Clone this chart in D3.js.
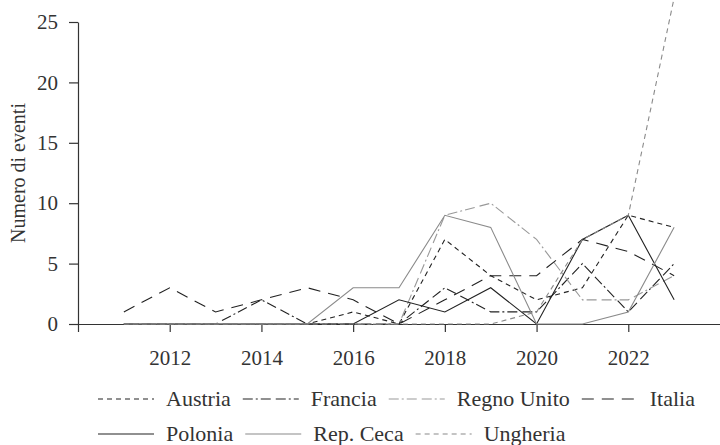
<!DOCTYPE html>
<html>
<head>
<meta charset="utf-8">
<script src="https://cdn.jsdelivr.net/npm/d3@7"></script>
<style>
  body { margin: 0; background: #fff; }
  text { font-family: "Liberation Serif", "DejaVu Serif", serif; fill: #333; }
</style>
</head>
<body>
<div id="chart"></div>
<script>
// anni e valori
const years = [2011, 2012, 2013, 2014, 2015, 2016, 2017, 2018, 2019, 2020, 2021, 2022, 2023];
const austria    = [0, 0, 0, 0, 0, 1, 0, 7, 4, 2, 3, 9, 8];
const francia    = [0, 0, 0, 2, 0, 0, 0, 3, 1, 1, 5, 1, 5];
const regnoUnito = [0, 0, 0, 0, 0, 0, 0, 9, 10, 7, 2, 2, 4];
const italia     = [1, 3, 1, 2, 3, 2, 0, 2, 4, 4, 7, 6, 4];
const polonia    = [0, 0, 0, 0, 0, 0, 2, 1, 3, 0, 7, 9, 2];
const repCeca    = [0, 0, 0, 0, 0, 3, 3, 9, 8, 0, 0, 1, 8];
const ungheria   = [0, 0, 0, 0, 0, 0, 0, 0, 0, 1, 7, 9, 27];

const names = ["Austria", "Francia", "Regno Unito", "Italia", "Polonia", "Rep. Ceca", "Ungheria"];
const values = [austria, francia, regnoUnito, italia, polonia, repCeca, ungheria];

const xTicks = [2010, 2012, 2014, 2016, 2018, 2020, 2022];
const yTicks = [0, 5, 10, 15, 20, 25];

// stili delle linee
const styles = {
  "Austria":     { color: "#222", dash: "5,4" },
  "Francia":     { color: "#222", dash: "10,3,2,3,10,5" },
  "Regno Unito": { color: "#999", dash: "10,3,2,3,10,5" },
  "Italia":      { color: "#222", dash: "12,8" },
  "Polonia":     { color: "#222", dash: null },
  "Rep. Ceca":   { color: "#8a8a8a", dash: null },
  "Ungheria":    { color: "#8a8a8a", dash: "5,4" }
};

const W = 720, H = 445;
const svg = d3.select("#chart").append("svg")
  .attr("width", W).attr("height", H);

const x = d3.scaleLinear().domain([2010, 2024]).range([78, 720]);
const y = d3.scaleLinear().domain([0, 25]).range([324, 22]);

// asse x
const xAxis = svg.append("g")
  .attr("transform", "translate(0," + y(0) + ")")
  .call(d3.axisBottom(x).tickValues(xTicks).tickSize(8).tickSizeOuter(0)
    .tickFormat(d => d === 2010 ? "" : d));
xAxis.select(".domain").attr("stroke", "#333").attr("stroke-width", 1.2);
xAxis.selectAll(".tick line").attr("stroke", "#333").attr("stroke-width", 1.2);
xAxis.selectAll(".tick text")
  .attr("y", 18).attr("dy", "1.1em")
  .style("font-size", "21px").attr("fill", "#333");

// asse y
const yAxis = svg.append("g")
  .attr("transform", "translate(" + x(2010) + ",0)")
  .call(d3.axisLeft(y).tickValues(yTicks).tickSize(9).tickSizeOuter(0));
yAxis.select(".domain").attr("stroke", "#333").attr("stroke-width", 1.2);
yAxis.selectAll(".tick line").attr("stroke", "#333").attr("stroke-width", 1.2);
yAxis.selectAll(".tick text")
  .attr("x", -20)
  .style("font-size", "21px").attr("fill", "#333");

svg.append("text")
  .attr("transform", "translate(25," + ((y(0) + y(25)) / 2) + ") rotate(-90)")
  .attr("text-anchor", "middle")
  .style("font-size", "20px")
  .text("Numero di eventi");

// linee
const line = d3.line()
  .x((d, i) => x(years[i]))
  .y(d => y(d));

names.forEach((name, k) => {
  svg.append("path")
    .datum(values[k])
    .attr("fill", "none")
    .attr("stroke", styles[name].color)
    .attr("stroke-width", 1.1)
    .attr("stroke-dasharray", styles[name].dash)
    .attr("d", line);
});

// legenda
const rows = [names.slice(0, 4), names.slice(4)];
const rowY = [399, 434];
rows.forEach((row, r) => {
  let cx = 98;
  row.forEach(name => {
    svg.append("line")
      .attr("x1", cx).attr("x2", cx + 56)
      .attr("y1", rowY[r]).attr("y2", rowY[r])
      .attr("stroke", styles[name].color)
      .attr("stroke-width", 1.1)
      .attr("stroke-dasharray", styles[name].dash);
    const t = svg.append("text")
      .attr("x", cx + 56 + 12)
      .attr("y", rowY[r] + 7)
      .style("font-size", "22px")
      .text(name);
    cx += 56 + 12 + t.node().getComputedTextLength() + 12;
  });
});
</script>
</body>
</html>
